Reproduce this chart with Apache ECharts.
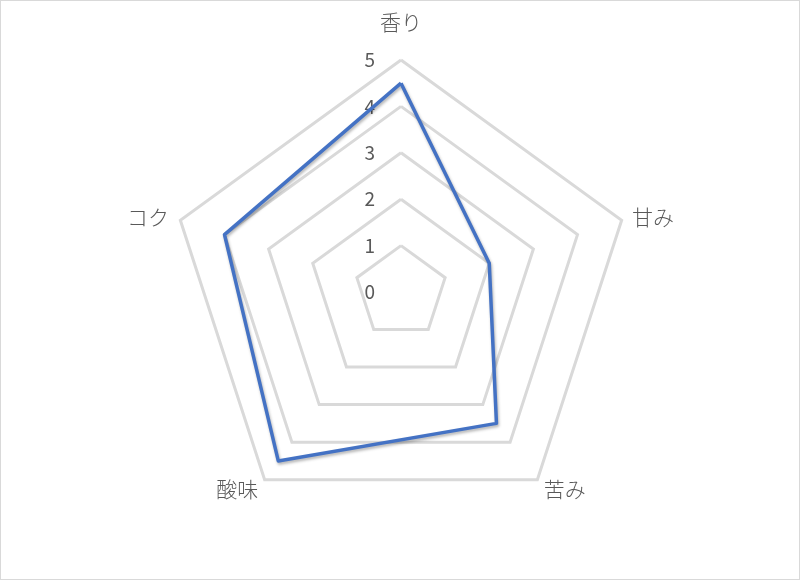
<!DOCTYPE html>
<html>
<head>
<meta charset="utf-8">
<script src="https://cdn.jsdelivr.net/npm/echarts@6/dist/echarts.min.js"></script>
<style>
    html, body { margin: 0; padding: 0; background: #fff; }
    #main { width: 798px; height: 578px; border: 1px solid #d9d9d9; }
</style>
</head>
<body>
<div id="main"></div>
<script>
    // 軸名と値（時計回り、上から）
    var categories = ['香り', '甘み', '苦み', '酸味', 'コク'];
    var values = [4.5, 2, 3.5, 4.5, 4];
    var axisMax = 5;

    var chart = echarts.init(document.getElementById('main'));

    // echartsのレーダーは反時計回りなので並べ替える
    var order = [0, 4, 3, 2, 1];
    // 軸名の間隔（上は広め、横と下は狭め）
    var gaps = [27, 12, 11, 11, 11];
    var indicator = order.map(function (k, i) {
        var ind = {name: categories[k], max: axisMax, min: 0, nameGap: gaps[i]};
        if (i === 0) {
            // 目盛ラベルは先頭の軸だけ
            ind.axisLabel = {show: true};
        }
        return ind;
    });
    var seriesValues = order.map(function (k) { return values[k]; });

    chart.setOption({
        animation: false,
        textStyle: {fontFamily: '"Noto Sans CJK JP", sans-serif'},
        radar: {
            center: [400, 291],
            radius: 232,
            startAngle: 90,
            splitNumber: 5,
            shape: 'polygon',
            nameGap: 24,
            axisName: {
                color: '#595959',
                fontSize: 21,
                fontWeight: 300,
                fontFamily: '"Noto Sans CJK JP", sans-serif'
            },
            axisLine: {show: false},
            axisTick: {show: false},
            axisLabel: {
                show: false,
                color: '#595959',
                fontSize: 19,
                margin: 26,
                fontFamily: '"Noto Sans CJK JP", sans-serif'
            },
            splitLine: {lineStyle: {color: '#d9d9d9', width: 3}},
            splitArea: {show: false},
            indicator: indicator
        },
        series: [{
            type: 'radar',
            symbol: 'none',
            lineStyle: {
                color: '#4472c4',
                width: 3.5,
                shadowColor: 'rgba(0,0,0,0.3)',
                shadowBlur: 3,
                shadowOffsetX: 1,
                shadowOffsetY: 2
            },
            data: [{value: seriesValues}]
        }]
    });
</script>
</body>
</html>
